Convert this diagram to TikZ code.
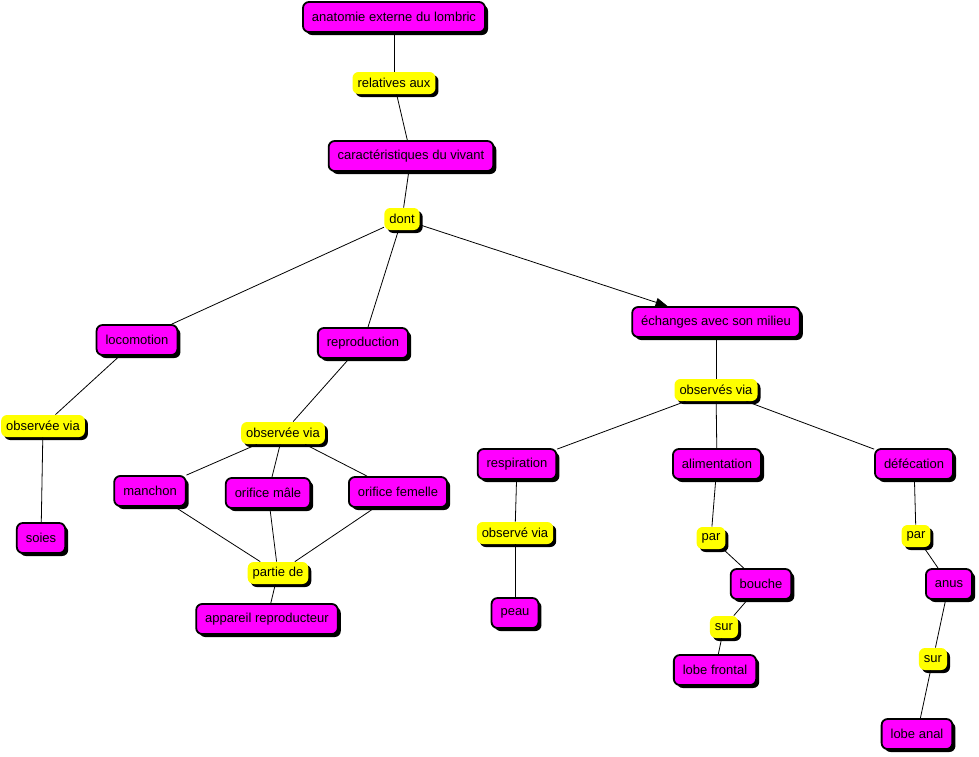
\documentclass[tikz,border=0pt]{standalone}
\usepackage{fontspec}
\setmainfont{Liberation Sans}
\usetikzlibrary{arrows.meta}
\usetikzlibrary{shadows}
\definecolor{cmapmag}{RGB}{255,0,255}
\definecolor{cmapyel}{RGB}{255,255,0}

\begin{document}
\begin{tikzpicture}[x=1pt, y=-1pt, line width=0.8pt,
    concept/.style={draw=black, line width=1.8pt, fill=cmapmag, rounded corners=6pt,
      minimum height=30pt, inner xsep=9pt, font=\fontsize{13}{15}\selectfont,
      drop shadow={shadow xshift=3pt, shadow yshift=-3pt, fill=black, opacity=1}},
    liaison/.style={fill=cmapyel, rounded corners=6pt, minimum height=22pt, inner xsep=5pt,
      font=\fontsize{13}{15}\selectfont,
      drop shadow={shadow xshift=3pt, shadow yshift=-3pt, fill=black, opacity=1}}]
          \useasboundingbox (0,0) rectangle (979,756);

          % top of the map
          \node [concept] (anat) at (394,17) {anatomie externe du lombric};
          \node [liaison] (rel) at (394,83) {relatives aux};
          \node [concept] (carac) at (411,156) {caractéristiques du vivant};
          \node [liaison] (dont) at (402,219) {dont};

          % locomotion branch
          \node [concept] (loco) at (137,340) {locomotion};
          \node [liaison] (obsL) at (43,426) {observée via};
          \node [concept] (soies) at (41,538) {soies};

          % reproduction branch
          \node [concept] (repro) at (363,343) {reproduction};
          \node [liaison] (obsM) at (283,433) {observée via};
          \node [concept] (manchon) at (150,491) {manchon};
          \node [concept] (orifM) at (268,493) {orifice mâle};
          \node [concept] (orifF) at (398,492) {orifice femelle};
          \node [liaison] (partie) at (278,573) {partie de};
          \node [concept] (appar) at (267,619) {appareil reproducteur};

          % echanges branch
          \node [concept] (echg) at (716,322) {échanges avec son milieu};
          \node [liaison] (obsR) at (716,390) {observés via};
          \node [concept] (resp) at (517,464) {respiration};
          \node [concept] (alim) at (717,464) {alimentation};
          \node [concept] (defec) at (914,464) {défécation};
          \node [liaison] (obsP) at (515,533) {observé via};
          \node [concept] (peau) at (515,613) {peau};
          \node [liaison] (par1) at (711,538) {par};
          \node [concept] (bouche) at (761,584) {bouche};
          \node [liaison] (sur1) at (724,627) {sur};
          \node [concept] (lobeF) at (715,670) {lobe frontal};
          \node [liaison] (par2) at (916,536) {par};
          \node [concept] (anus) at (949,584) {anus};
          \node [liaison] (sur2) at (933,659) {sur};
          \node [concept] (lobeA) at (917,734) {lobe anal};

          \draw [black] (anat) -- (rel);
          \draw [black] (rel) -- (carac);
          \draw [black] (carac) -- (dont);

          \draw [black] (dont) -- (loco);
          \draw [black] (dont) -- (repro);
          \draw [black, arrows={-Triangle[length=12pt, width=9pt]}] (dont) -- (echg);

          \draw [black] (loco) -- (obsL);
          \draw [black] (obsL) -- (soies);

          \draw [black] (repro) -- (obsM);
          \draw [black] (obsM) -- (manchon);
          \draw [black] (obsM) -- (orifM);
          \draw [black] (obsM) -- (orifF);
          \draw [black] (manchon) -- (partie);
          \draw [black] (orifM) -- (partie);
          \draw [black] (orifF) -- (partie);
          \draw [black] (partie) -- (appar);

          \draw [black] (echg) -- (obsR);
          \draw [black] (obsR) -- (resp);
          \draw [black] (obsR) -- (alim);
          \draw [black] (obsR) -- (defec);

          \draw [black] (resp) -- (obsP);
          \draw [black] (obsP) -- (peau);

          \draw [black] (alim) -- (par1);
          \draw [black] (par1) -- (bouche);
          \draw [black] (bouche) -- (sur1);
          \draw [black] (sur1) -- (lobeF);

          \draw [black] (defec) -- (par2);
          \draw [black] (par2) -- (anus);
          \draw [black] (anus) -- (sur2);
          \draw [black] (sur2) -- (lobeA);
        \end{tikzpicture}
\end{document}
